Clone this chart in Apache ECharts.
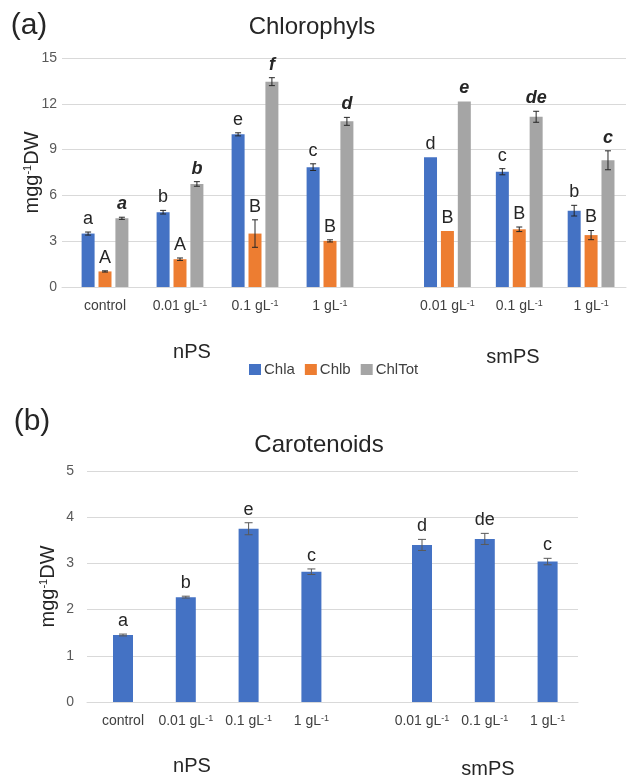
<!DOCTYPE html>
<html lang="en">
<head>
    <meta charset="UTF-8">
    <title>Chlorophyls and Carotenoids</title>
    <script src="https://cdn.jsdelivr.net/npm/echarts/dist/echarts.min.js"></script>
    <style>
        html, body { margin: 0; padding: 0; background: #fff; }
        #main { width: 627px; height: 776px; }
    </style>
</head>
<body>
<div id="main"></div>
<script type="text/javascript">
    // categories
    var nCats = ['control', '0.01 gL{s|-1}', '0.1 gL{s|-1}', '1 gL{s|-1}'];
    var smCats = ['0.01 gL{s|-1}', '0.1 gL{s|-1}', '1 gL{s|-1}'];
    var chlNames = ['Chla', 'Chlb', 'ChlTot'];

    // (a) nPS
    var chlaN = [3.5, 4.9, 10.0, 7.85];
    var chlaNErr = [0.1, 0.12, 0.1, 0.22];
    var chlaNLet = ['a', 'b', 'e', 'c'];
    var chlbN = [1.02, 1.82, 3.5, 3.02];
    var chlbNErr = [0.04, 0.08, 0.9, 0.07];
    var chlbNLet = ['A', 'A', 'B', 'B'];
    var totN = [4.5, 6.75, 13.45, 10.85];
    var totNErr = [0.07, 0.15, 0.26, 0.26];
    var totNLet = ['a', 'b', 'f', 'd'];

    // (a) smPS
    var chlaS = [8.5, 7.55, 5.0];
    var chlaSErr = [0, 0.2, 0.35];
    var chlaSLet = ['d', 'c', 'b'];
    var chlbS = [3.67, 3.78, 3.4];
    var chlbSErr = [0, 0.15, 0.3];
    var chlbSLet = ['B', 'B', 'B'];
    var totS = [12.15, 11.15, 8.3];
    var totSErr = [0, 0.36, 0.62];
    var totSLet = ['e', 'de', 'c'];

    // (b) carotenoids
    var carN = [1.45, 2.27, 3.75, 2.82];
    var carNErr = [0.02, 0.02, 0.13, 0.06];
    var carNLet = ['a', 'b', 'e', 'c'];
    var carS = [3.4, 3.53, 3.04];
    var carSErr = [0.12, 0.12, 0.07];
    var carSLet = ['d', 'de', 'c'];

    // y ticks
    var chlTicks = { min: 0, max: 15, interval: 3 };
    var carTicks = { min: 0, max: 5, interval: 1 };

    var colors = ['#4472C4', '#ED7D31', '#A5A5A5'];
    var font = 'Liberation Sans, Arial, sans-serif';
    var supRich = { s: { fontSize: 9, color: '#404040', verticalAlign: 'top', lineHeight: 10, fontFamily: font } };
    var nameRich = { s: { fontSize: 11, color: '#262626', verticalAlign: 'top', lineHeight: 12, fontFamily: font } };

    var myChart = echarts.init(document.getElementById('main'));

    function catAxis(grid, cats) {
        return {
            type: 'category', gridIndex: grid, data: cats,
            axisLine: { show: false }, axisTick: { show: false }, splitLine: { show: false },
            axisLabel: { interval: 0, margin: 12, fontSize: 14, color: '#404040', rich: supRich }
        };
    }

    function hiddenY(grid, t) {
        return { type: 'value', gridIndex: grid, min: t.min, max: t.max, show: false, splitLine: { show: false } };
    }

    // error bars + letters
    function errSeries(xi, vals, errs, letters, offset, cap, txt) {
        return {
            type: 'custom', xAxisIndex: xi, yAxisIndex: xi, z: 10, silent: true,
            encode: { x: 0, y: 1 },
            data: vals.map(function (v, i) { return [i, v, errs[i]]; }),
            renderItem: function (params, api) {
                var i = api.value(0), v = api.value(1), e = api.value(2);
                var x = api.coord([i, v])[0] + offset;
                var top = api.coord([i, v + e])[1];
                var bot = api.coord([i, v - e])[1];
                var lineStyle = { stroke: txt.errColor, lineWidth: 1 };
                var kids = [];
                if (e > 0) {
                    kids.push({ type: 'line', shape: { x1: x, y1: top, x2: x, y2: bot }, style: lineStyle });
                    kids.push({ type: 'line', shape: { x1: x - cap, y1: top, x2: x + cap, y2: top }, style: lineStyle });
                    kids.push({ type: 'line', shape: { x1: x - cap, y1: bot, x2: x + cap, y2: bot }, style: lineStyle });
                }
                kids.push({
                    type: 'text',
                    style: {
                        text: letters[params.dataIndex], x: x, y: top - 13,
                        align: 'center', verticalAlign: 'middle',
                        fontSize: 18, fontFamily: font, fill: '#262626',
                        fontWeight: txt.weight, fontStyle: txt.style
                    }
                });
                return { type: 'group', children: kids };
            }
        };
    }

    var plain = { weight: 'normal', style: 'normal', errColor: '#262626' };
    var boldIt = { weight: 'bold', style: 'italic', errColor: '#262626' };
    var carTxt = { weight: 'normal', style: 'normal', errColor: '#595959' };

    var step = 13 * 1.3;

    function txt(x, y, text, size) {
        return {
            type: 'text', x: x, y: y,
            style: { text: text, fontSize: size, fontFamily: font, fill: '#262626', align: 'center', verticalAlign: 'middle' }
        };
    }

    var option = {
        animation: false,
        textStyle: { fontFamily: font },
        graphic: [
            txt(29, 26, '(a)', 30),
            txt(312, 27, 'Chlorophyls', 24),
            txt(192, 352, 'nPS', 20),
            txt(513, 357, 'smPS', 20),
            txt(32, 422, '(b)', 30),
            txt(319, 445, 'Carotenoids', 24),
            txt(192, 766, 'nPS', 20),
            txt(488, 769, 'smPS', 20)
        ],
        legend: {
            data: chlNames, left: 244, top: 357,
            icon: 'rect', itemWidth: 12, itemHeight: 11, itemGap: 10,
            textStyle: { fontSize: 15, color: '#404040', padding: [0, 0, 0, -2] }
        },
        grid: [
            { left: 62, right: 1, top: 58, height: 229 },
            { left: 67.5, width: 300, top: 58, height: 229 },
            { left: 411.5, width: 225, top: 58, height: 229 },
            { left: 87, width: 491, top: 471, height: 231 },
            { left: 91.6, width: 251.2, top: 471, height: 231 },
            { left: 390.6, width: 188.4, top: 471, height: 231 }
        ],
        xAxis: [
            { type: 'value', gridIndex: 0, min: 0, max: 1, axisLabel: { show: false }, axisTick: { show: false },
              splitLine: { show: false }, axisLine: { lineStyle: { color: '#D9D9D9' } } },
            catAxis(1, nCats),
            catAxis(2, smCats),
            { type: 'value', gridIndex: 3, min: 0, max: 1, axisLabel: { show: false }, axisTick: { show: false },
              splitLine: { show: false }, axisLine: { lineStyle: { color: '#D9D9D9' } } },
            catAxis(4, nCats),
            catAxis(5, smCats)
        ],
        yAxis: [
            {
                type: 'value', gridIndex: 0, min: chlTicks.min, max: chlTicks.max, interval: chlTicks.interval,
                axisLine: { show: false }, axisTick: { show: false },
                axisLabel: { fontSize: 14, color: '#595959', margin: 5 },
                splitLine: { lineStyle: { color: '#D9D9D9' } },
                name: 'mgg{s|-1}DW', nameLocation: 'middle', nameGap: 20, nameRotate: 90, nameMoveOverlap: false,
                nameTextStyle: { fontSize: 20, color: '#262626', rich: nameRich }
            },
            hiddenY(1, chlTicks),
            hiddenY(2, chlTicks),
            {
                type: 'value', gridIndex: 3, min: carTicks.min, max: carTicks.max, interval: carTicks.interval,
                axisLine: { show: false }, axisTick: { show: false },
                axisLabel: { fontSize: 14, color: '#595959', margin: 13 },
                splitLine: { lineStyle: { color: '#D9D9D9' } },
                name: 'mgg{s|-1}DW', nameLocation: 'middle', nameGap: 29, nameRotate: 90, nameMoveOverlap: false,
                nameTextStyle: { fontSize: 20, color: '#262626', rich: nameRich }
            },
            hiddenY(4, carTicks),
            hiddenY(5, carTicks)
        ],
        series: [
            { name: 'Chla', type: 'bar', xAxisIndex: 1, yAxisIndex: 1, barWidth: 13, barGap: '30%', data: chlaN, itemStyle: { color: colors[0] } },
            { name: 'Chlb', type: 'bar', xAxisIndex: 1, yAxisIndex: 1, barWidth: 13, barGap: '30%', data: chlbN, itemStyle: { color: colors[1] } },
            { name: 'ChlTot', type: 'bar', xAxisIndex: 1, yAxisIndex: 1, barWidth: 13, barGap: '30%', data: totN, itemStyle: { color: colors[2] } },
            { name: 'Chla', type: 'bar', xAxisIndex: 2, yAxisIndex: 2, barWidth: 13, barGap: '30%', data: chlaS, itemStyle: { color: colors[0] } },
            { name: 'Chlb', type: 'bar', xAxisIndex: 2, yAxisIndex: 2, barWidth: 13, barGap: '30%', data: chlbS, itemStyle: { color: colors[1] } },
            { name: 'ChlTot', type: 'bar', xAxisIndex: 2, yAxisIndex: 2, barWidth: 13, barGap: '30%', data: totS, itemStyle: { color: colors[2] } },
            errSeries(1, chlaN, chlaNErr, chlaNLet, -step, 3, plain),
            errSeries(1, chlbN, chlbNErr, chlbNLet, 0, 3, plain),
            errSeries(1, totN, totNErr, totNLet, step, 3, boldIt),
            errSeries(2, chlaS, chlaSErr, chlaSLet, -step, 3, plain),
            errSeries(2, chlbS, chlbSErr, chlbSLet, 0, 3, plain),
            errSeries(2, totS, totSErr, totSLet, step, 3, boldIt),

            { name: 'Carotenoids', type: 'bar', xAxisIndex: 4, yAxisIndex: 4, barWidth: 20, data: carN, itemStyle: { color: colors[0] } },
            { name: 'Carotenoids', type: 'bar', xAxisIndex: 5, yAxisIndex: 5, barWidth: 20, data: carS, itemStyle: { color: colors[0] } },
            errSeries(4, carN, carNErr, carNLet, 0, 4, carTxt),
            errSeries(5, carS, carSErr, carSLet, 0, 4, carTxt)
        ]
    };
    myChart.setOption(option);
</script>
</body>
</html>
